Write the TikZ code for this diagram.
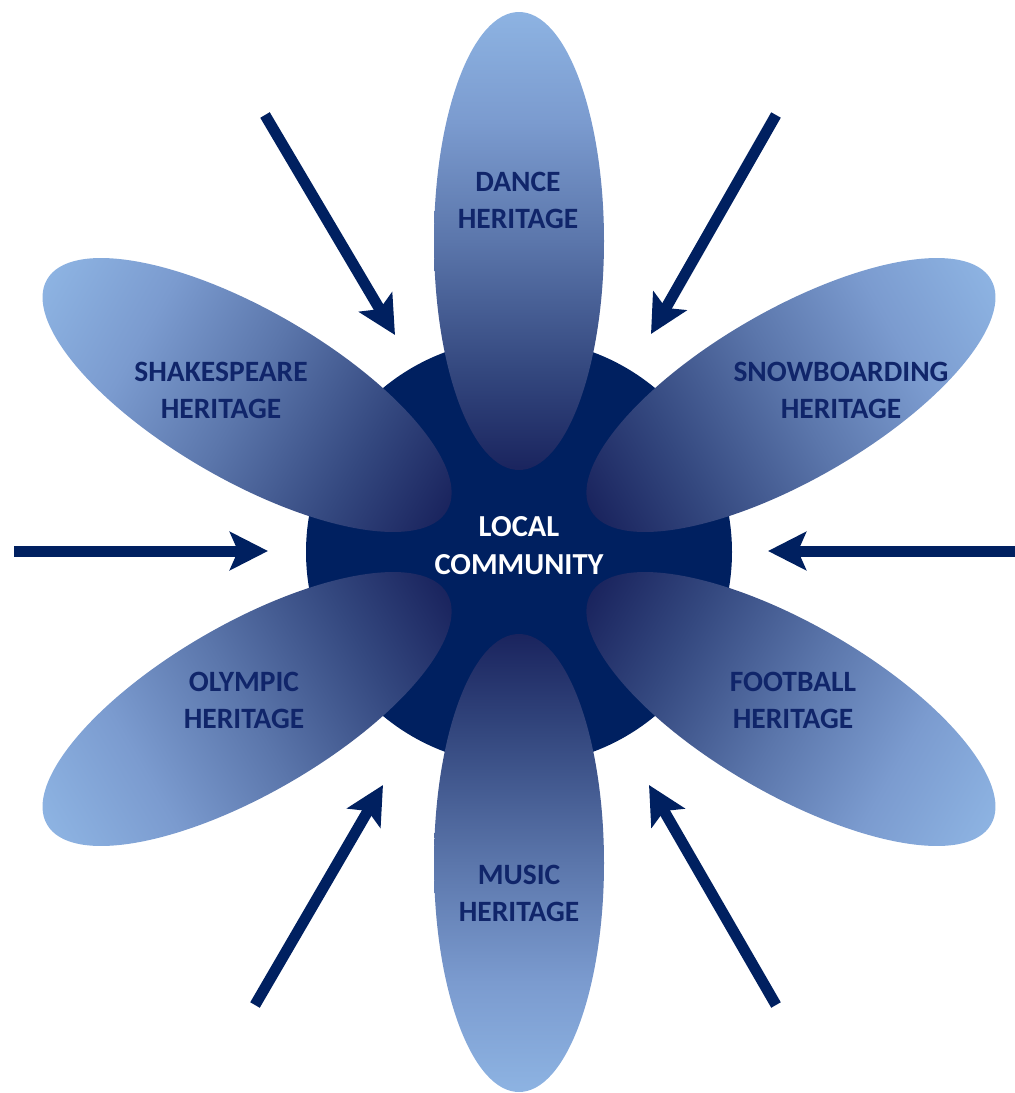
\documentclass[tikz,border=0pt]{standalone}
\usepackage{fontspec}
\setmainfont{Carlito}
\usetikzlibrary{arrows.meta}
\definecolor{navy}{HTML}{002060}
\definecolor{txtnavy}{HTML}{10256A}
\definecolor{pdark}{HTML}{1A245E}
\definecolor{pmida}{HTML}{34487F}
\definecolor{pmidb}{HTML}{5B76AB}
\definecolor{pmidc}{HTML}{7B9BCF}
\definecolor{plight}{HTML}{8DB3E2}
\pgfdeclareverticalshading{petalshade}{100bp}{color(0bp)=(pdark); color(25bp)=(pdark); color(36bp)=(pmida); color(50bp)=(pmidb); color(63bp)=(pmidc); color(75bp)=(plight); color(100bp)=(plight)}
\tikzset{
  arrowline/.style={navy, line width=11pt, -{Stealth[length=38pt, width=38pt, inset=8pt]}},
  ptext/.style={text=txtnavy, align=center, font=\bfseries\fontsize{29.5}{37}\selectfont, inner sep=0pt},
  ctext/.style={text=white, align=center, font=\bfseries\fontsize{30.5}{38}\selectfont, inner sep=0pt},
}
\begin{document}
\begin{tikzpicture}[x=1pt, y=-1pt]
\useasboundingbox (0,0) rectangle (1015,1093);
\fill[navy] (519,552) circle [radius=213];
\foreach \ang in {0,180} {
  \begin{scope}[transform canvas={rotate around={\ang:(519,552)}}]
    \shade[shading=petalshade] (519,241) ellipse [x radius=85, y radius=229];
  \end{scope}
}
\foreach \ang in {60,-60,120,-120} {
  \begin{scope}[transform canvas={rotate around={\ang:(519,552)}}]
    \shade[shading=petalshade] (519,238) ellipse [x radius=85, y radius=231];
  \end{scope}
}
% arrows
\coordinate (a1s) at (265,115); \coordinate (a1e) at (395,335);
\coordinate (a2s) at (776,115); \coordinate (a2e) at (651,334);
\coordinate (a3s) at (14,551);  \coordinate (a3e) at (268,551);
\coordinate (a4s) at (1015,551); \coordinate (a4e) at (768,551);
\coordinate (a5s) at (255,1005); \coordinate (a5e) at (383,785);
\coordinate (a6s) at (776,1005); \coordinate (a6e) at (649,785);
\draw[arrowline] (a1s) -- (a1e);
\draw[arrowline] (a2s) -- (a2e);
\draw[arrowline] (a3s) -- (a3e);
\draw[arrowline] (a4s) -- (a4e);
\draw[arrowline] (a5s) -- (a5e);
\draw[arrowline] (a6s) -- (a6e);
% texts
\node[ctext] (local) at (519,546) {LOCAL\\COMMUNITY};
\node[ptext] (dance) at (518,200) {DANCE\\HERITAGE};
\node[ptext] (shak) at (221,390) {SHAKESPEARE\\HERITAGE};
\node[ptext] (snow) at (841,390) {SNOWBOARDING\\HERITAGE};
\node[ptext] (olym) at (244,700) {OLYMPIC\\HERITAGE};
\node[ptext] (foot) at (793,700) {FOOTBALL\\HERITAGE};
\node[ptext] (music) at (519,893) {MUSIC\\HERITAGE};
\end{tikzpicture}
\end{document}
